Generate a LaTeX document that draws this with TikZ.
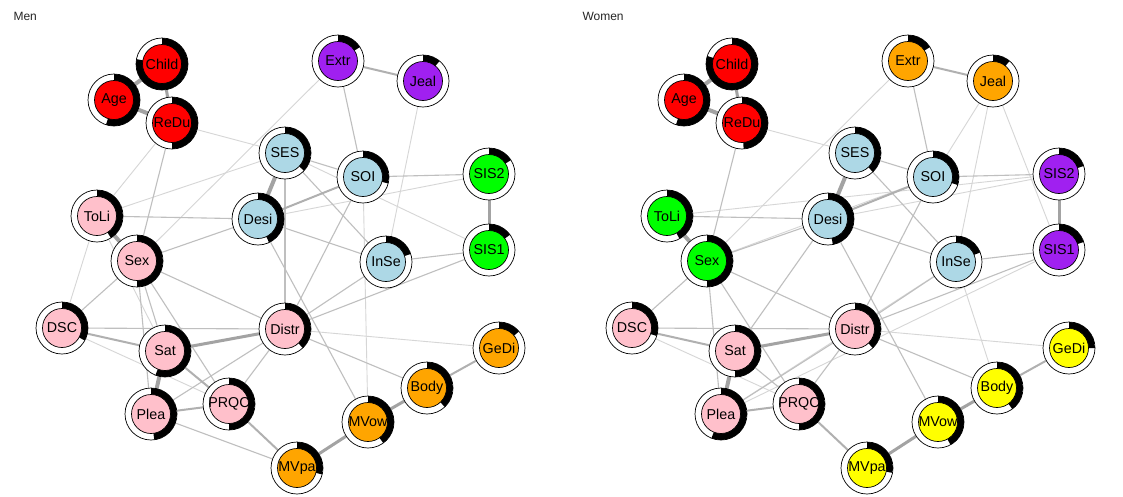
\documentclass[tikz,border=0pt]{standalone}
\usepackage{fontspec}
\setmainfont{Liberation Sans}
\pgfdeclarelayer{background}
\pgfsetlayers{background,main}
\definecolor{cRed}{HTML}{FF0000}
\definecolor{cPurple}{HTML}{A020F0}
\definecolor{cBlue}{HTML}{ADD8E6}
\definecolor{cGreen}{HTML}{00FF00}
\definecolor{cPink}{HTML}{FFC0CB}
\definecolor{cOrange}{HTML}{FFA500}
\definecolor{cYellow}{HTML}{FFFF00}
\tikzset{
  pnode/.style 2 args={circle, minimum size=52pt, inner sep=0pt, draw=black,
    line width=0.7pt, fill=white, text=black, font=\fontsize{14.3}{14.3}\selectfont,
    path picture={
      \fill[black] (path picture bounding box.center) -- ++(90:26pt)
        arc[start angle=90, delta angle={-360*#2}, radius=26pt] -- cycle;
      \filldraw[fill=#1, draw=black, line width=0.7pt]
        (path picture bounding box.center) circle[radius=19.5pt];
    }},
  ptitle/.style={anchor=base west, font=\fontsize{12}{12}\selectfont, text=black!85},
  e4/.style={line width=4pt, draw=gray!72},
  e3/.style={line width=3pt, draw=gray!72},
  e2/.style={line width=2pt, draw=gray!62},
  e1/.style={line width=1.1pt, draw=gray!50},
  e0/.style={line width=0.9pt, draw=gray!32},
}
\begin{document}
\begin{tikzpicture}[x=1pt,y=-1pt]
\useasboundingbox (0,0) rectangle (1123,496);
\begin{pgfonlayer}{background}
\fill[white] (0,0) rectangle (1123,496);
\end{pgfonlayer}

\node[ptitle] (tMen) at (10,20) {Men};
\node[ptitle] (tWomen) at (579,20) {Women};

% ---------------- Men ----------------
\node[pnode={cRed}{0.78}] (mChild) at (162,64) {Child};
\node[pnode={cRed}{0.55}] (mAge) at (114,100) {Age};
\node[pnode={cRed}{0.50}] (mReDu) at (172,123) {ReDu};
\node[pnode={cPurple}{0.16}] (mExtr) at (338,61) {Extr};
\node[pnode={cPurple}{0.11}] (mJeal) at (423,81) {Jeal};
\node[pnode={cBlue}{0.37}] (mSES) at (285,153) {SES};
\node[pnode={cBlue}{0.29}] (mSOI) at (363,177) {SOI};
\node[pnode={cGreen}{0.16}] (mSIS2) at (489,174) {SIS2};
\node[pnode={cPink}{0.41}] (mToLi) at (97,216) {ToLi};
\node[pnode={cBlue}{0.43}] (mDesi) at (258,219) {Desi};
\node[pnode={cPink}{0.50}] (mSex) at (137,261) {Sex};
\node[pnode={cBlue}{0.20}] (mInSe) at (386,262) {InSe};
\node[pnode={cGreen}{0.15}] (mSIS1) at (489,250) {SIS1};
\node[pnode={cPink}{0.33}] (mDSC) at (62,328) {DSC};
\node[pnode={cPink}{0.38}] (mDistr) at (285,329) {Distr};
\node[pnode={cPink}{0.56}] (mSat) at (165,351) {Sat};
\node[pnode={cOrange}{0.14}] (mGeDi) at (499,348) {GeDi};
\node[pnode={cPink}{0.50}] (mPRQC) at (229,404) {PRQC};
\node[pnode={cOrange}{0.38}] (mBody) at (427,388) {Body};
\node[pnode={cPink}{0.48}] (mPlea) at (151,414) {Plea};
\node[pnode={cOrange}{0.40}] (mMVow) at (368,422) {MVow};
\node[pnode={cOrange}{0.29}] (mMVpa) at (297,468) {MVpa};

% ---------------- Women ----------------
\node[pnode={cRed}{0.80}] (wChild) at (732,64) {Child};
\node[pnode={cRed}{0.55}] (wAge) at (684,100) {Age};
\node[pnode={cRed}{0.49}] (wReDu) at (742,123) {ReDu};
\node[pnode={cOrange}{0.16}] (wExtr) at (908,61) {Extr};
\node[pnode={cOrange}{0.11}] (wJeal) at (993,81) {Jeal};
\node[pnode={cBlue}{0.38}] (wSES) at (855,153) {SES};
\node[pnode={cBlue}{0.30}] (wSOI) at (933,177) {SOI};
\node[pnode={cPurple}{0.20}] (wSIS2) at (1059,174) {SIS2};
\node[pnode={cGreen}{0.42}] (wToLi) at (667,216) {ToLi};
\node[pnode={cBlue}{0.47}] (wDesi) at (828,219) {Desi};
\node[pnode={cGreen}{0.50}] (wSex) at (707,261) {Sex};
\node[pnode={cBlue}{0.19}] (wInSe) at (956,262) {InSe};
\node[pnode={cPurple}{0.20}] (wSIS1) at (1059,250) {SIS1};
\node[pnode={cPink}{0.30}] (wDSC) at (632,328) {DSC};
\node[pnode={cPink}{0.38}] (wDistr) at (855,329) {Distr};
\node[pnode={cPink}{0.50}] (wSat) at (735,351) {Sat};
\node[pnode={cYellow}{0.25}] (wGeDi) at (1069,348) {GeDi};
\node[pnode={cPink}{0.50}] (wPRQC) at (799,404) {PRQC};
\node[pnode={cYellow}{0.40}] (wBody) at (997,388) {Body};
\node[pnode={cPink}{0.56}] (wPlea) at (721,414) {Plea};
\node[pnode={cYellow}{0.42}] (wMVow) at (938,422) {MVow};
\node[pnode={cYellow}{0.28}] (wMVpa) at (867,468) {MVpa};

\begin{pgfonlayer}{background}
% ---- Men edges ----
\foreach \a/\b in {ReDu/SES, ReDu/ToLi, ToLi/SES, Extr/Sex, ToLi/DSC, ToLi/Sat, DSC/PRQC,
  Distr/GeDi, SOI/MVow, Desi/SIS2, SES/SIS1, Jeal/InSe}
  \draw[e0] (m\a) -- (m\b);
\foreach \a/\b in {Extr/SOI, SES/SOI, ToLi/Desi, SES/InSe, Distr/Body, ReDu/Sex, Sex/Desi,
  Sex/Distr, Sex/DSC, Sex/Sat, Sex/Plea, Sex/PRQC, DSC/Distr, Distr/PRQC, Distr/Plea,
  Plea/MVpa, Desi/MVow, SOI/Distr, InSe/Distr, SIS1/Distr, SES/Distr, Desi/InSe,
  InSe/SIS1, SOI/SIS2}
  \draw[e1] (m\a) -- (m\b);
\foreach \a/\b in {Extr/Jeal, SOI/Desi, Plea/PRQC, PRQC/MVpa, Body/GeDi, DSC/Sat, Sat/PRQC}
  \draw[e2] (m\a) -- (m\b);
\foreach \a/\b in {Child/ReDu, SIS1/SIS2, MVow/Body, MVpa/MVow, Sat/Distr}
  \draw[e3] (m\a) -- (m\b);
\foreach \a/\b in {Child/Age, Age/ReDu, SES/Desi, Sat/Plea, ToLi/Sex}
  \draw[e4] (m\a) -- (m\b);
% ---- Women edges ----
\foreach \a/\b in {ReDu/SES, Extr/Sex, ToLi/SIS2, Sex/SOI, DSC/PRQC, Desi/SIS2, Jeal/SOI,
  Jeal/InSe, Jeal/SIS1, SIS1/Plea, InSe/Plea, Distr/GeDi, InSe/Body}
  \draw[e0] (w\a) -- (w\b);
\foreach \a/\b in {Extr/SOI, SES/SOI, ToLi/Desi, SES/InSe, Distr/Body, Sat/PRQC, ReDu/Sex,
  Sex/Desi, Sex/Distr, Sex/DSC, Sex/Plea, Sex/PRQC, DSC/Distr, Distr/PRQC, Distr/Plea,
  Desi/MVow, SOI/Distr, InSe/Distr, SIS1/Distr, Desi/InSe, InSe/SIS1, SOI/SIS2, Desi/Sat}
  \draw[e1] (w\a) -- (w\b);
\foreach \a/\b in {Extr/Jeal, SOI/Desi, Plea/PRQC, PRQC/MVpa, Body/GeDi, DSC/Sat}
  \draw[e2] (w\a) -- (w\b);
\foreach \a/\b in {Child/ReDu, SIS1/SIS2, MVow/Body, MVpa/MVow, Sat/Distr}
  \draw[e3] (w\a) -- (w\b);
\foreach \a/\b in {Child/Age, Age/ReDu, SES/Desi, Sat/Plea, ToLi/Sex}
  \draw[e4] (w\a) -- (w\b);
\end{pgfonlayer}
\end{tikzpicture}
\end{document}
